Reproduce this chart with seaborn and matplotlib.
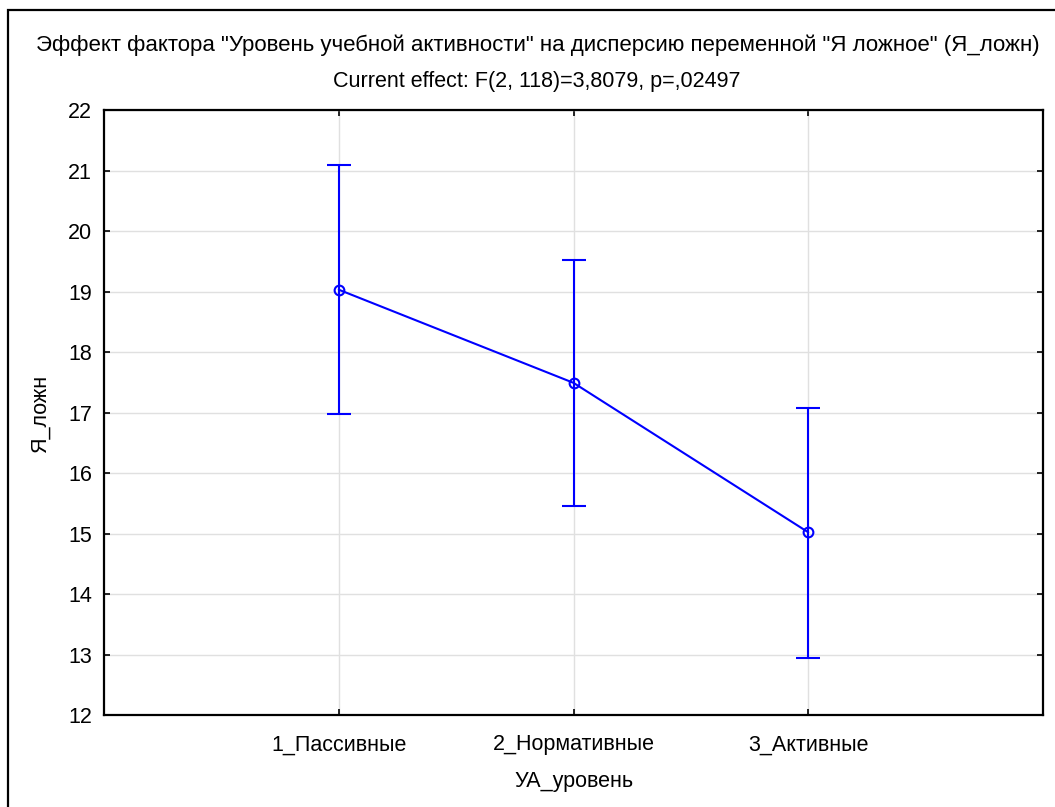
import numpy as np
import pandas as pd
import matplotlib
matplotlib.use("Agg")
import matplotlib.pyplot as plt
import seaborn as sns

# данные
categories = ["1_Пассивные", "2_Нормативные", "3_Активные"]
means = [19.03, 17.49, 15.02]
ci_low = [16.97, 15.45, 12.94]
ci_high = [21.09, 19.52, 17.07]

title = 'Эффект фактора "Уровень учебной активности" на дисперсию переменной "Я ложное" (Я_ложн)'
subtitle = "Current effect: F(2, 118)=3,8079, p=,02497"
x_label = "УА_уровень"
y_label = "Я_ложн"

sns.set_theme(style="whitegrid")
plt.rcParams["font.family"] = ["Liberation Sans", "DejaVu Sans"]

df = pd.DataFrame({"level": categories, "value": means})

W, H = 1055, 807
fig = plt.figure(figsize=(W / 100, H / 100), dpi=100)
ax = fig.add_axes([104 / W, 1 - 715 / H, (1043 - 104) / W, (715 - 110) / H])

blue = "#0000ff"
fs = 15.5
sns.pointplot(data=df, x="level", y="value", color=blue, errorbar=None,
              markers="o", linestyles="-", ax=ax,
              markersize=7, markerfacecolor="none", markeredgewidth=1.5,
              linewidth=1.5)
# доверительные интервалы
yerr = [np.array(means) - np.array(ci_low), np.array(ci_high) - np.array(means)]
ax.errorbar(np.arange(len(categories)), means, yerr=yerr, fmt="none",
            ecolor=blue, elinewidth=1.5, capsize=8.5, capthick=1.5, zorder=3)

ax.set_xlim(-1, 3)
ax.set_ylim(12, 22)
ax.set_yticks(range(12, 23))
ax.set_facecolor("white")
ax.grid(True, color="#e0e0e0", linewidth=1)
for s in ax.spines.values():
    s.set_color("black")
    s.set_linewidth(1.6)
    s.set_visible(True)

ax.tick_params(axis="both", direction="in", length=4, width=1.2, color="black",
               top=True, right=True, bottom=True, left=True,
               labelsize=fs, labelcolor="black")
ax.tick_params(axis="x", pad=14)
ax.tick_params(axis="y", pad=8.5)

ax.set_xlabel(x_label, fontsize=fs, color="black")
ax.set_ylabel(y_label, fontsize=fs, color="black")
ax.xaxis.set_label_coords(0.5, (715 - 782) / 605)
ax.yaxis.set_label_coords((40 - 104) / 939, 0.5)
ax.xaxis.label.set_va("center")
ax.yaxis.label.set_va("center")

fig.text(538 / W, 1 - 45 / H, title, ha="center", va="center", fontsize=16, color="black")
fig.text(537 / W, 1 - 82 / H, subtitle, ha="center", va="center", fontsize=fs, color="black")

# внешняя рамка
frame = plt.Rectangle((8 / W, -0.05), 1.1, 1 - 10 / H + 0.05, transform=fig.transFigure,
                      fill=False, edgecolor="black", linewidth=1.6)
fig.patches.append(frame)

fig.savefig("out.png", dpi=100, facecolor="white")
